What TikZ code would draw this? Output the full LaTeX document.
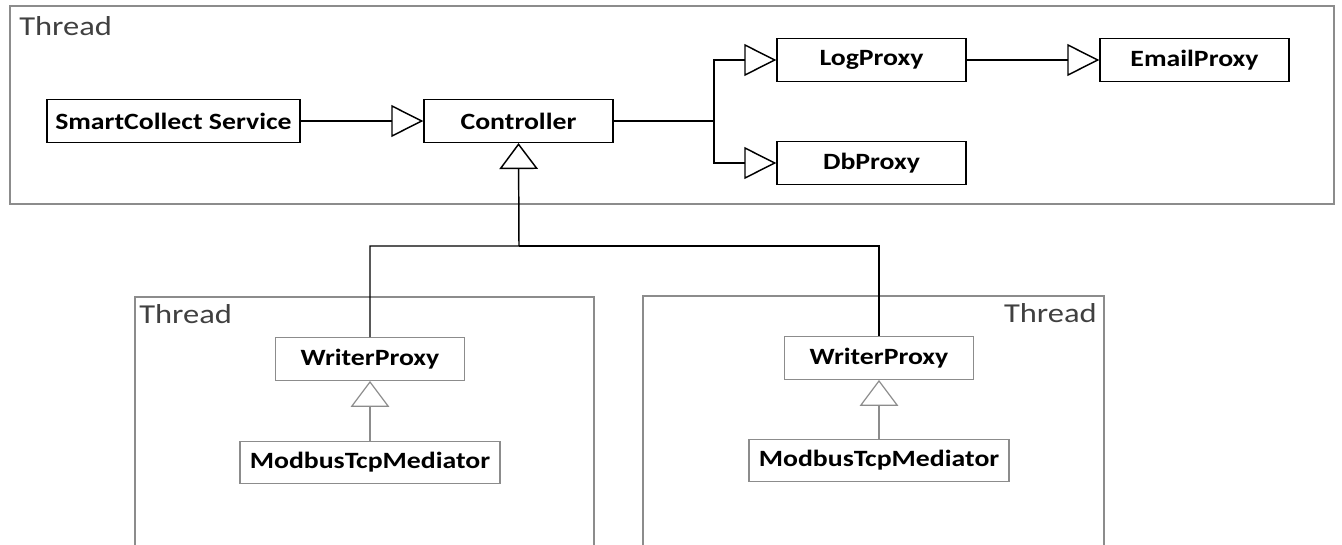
\documentclass[tikz,border=0pt]{standalone}
\usepackage{fontspec}
\setmainfont{Carlito}[FakeStretch=1.19]
\usetikzlibrary{arrows.meta}
\definecolor{lgrey}{HTML}{8C8C8C}
\definecolor{dgrey}{HTML}{404040}

\tikzset{
  cls/.style={draw=black, line width=1.1pt, minimum width=141.75pt, minimum height=32pt, inner sep=0pt, font=\fontsize{17.5}{20}\selectfont\bfseries},
  wcls/.style={cls, draw=lgrey, line width=0.9pt},
  thread/.style={draw=lgrey, line width=1pt},
  tlabel/.style={text=dgrey, font=\fontsize{20.5}{24}\selectfont, inner sep=0pt},
  hinh/.style={-{Triangle[open, length=24pt, width=24pt]}, line width=1.1pt},
  vinh/.style={-{Triangle[open, length=19.5pt, width=29pt]}, line width=1.1pt},
}

\begin{document}
\begin{tikzpicture}[x=0.75pt, y=-0.75pt]
    \clip (0,0) rectangle (1342,544);
    % threads
    \draw[thread] (10,6) rectangle (1334,204);
    \draw[thread] (135,297) rectangle (594,560);
    \draw[thread] (643,296) rectangle (1104,560);
    \node[tlabel, anchor=base west] (tmain) at (19,35) {Thread};
    \node[tlabel, anchor=base west] (tleft) at (139,323) {Thread};
    \node[tlabel, anchor=base east] (tright) at (1097,322) {Thread};
    % classes
    \node[cls, minimum width=190pt] (scs) at (173.5,121) {SmartCollect Service};
    \node[cls] (ctrl) at (518.5,121) {Controller};
    \node[cls] (logp) at (871.5,60) {LogProxy};
    \node[cls] (dbp) at (871.5,163) {DbProxy};
    \node[cls] (emailp) at (1194.5,60) {EmailProxy};
    \node[wcls] (wpl) at (370,359) {WriterProxy};
    \node[wcls, minimum width=195pt, minimum height=31pt] (mtml) at (370,462.5) {ModbusTcpMediator};
    \node[wcls] (wpr) at (879,358) {WriterProxy};
    \node[wcls, minimum width=195pt, minimum height=31pt] (mtmr) at (879,460.5) {ModbusTcpMediator};
    \coordinate (split) at (714,121);
    \coordinate (bus) at (519,246);
    % links
    \draw[hinh] (scs) -- (ctrl);
    \draw[line width=1.1pt] (ctrl) -- (split);
    \draw[hinh] (split) |- (logp);
    \draw[hinh] (split) |- (dbp);
    \draw[hinh] (logp) -- (emailp);
    \draw[vinh] (wpl.north) |- (bus) -- (ctrl.south);
    \draw[line width=1.1pt] (wpr.north) |- (bus);
    \draw[vinh, draw=lgrey, line width=0.9pt] (mtml) -- (wpl);
    \draw[vinh, draw=lgrey, line width=0.9pt] (mtmr) -- (wpr);
\end{tikzpicture}
\end{document}
